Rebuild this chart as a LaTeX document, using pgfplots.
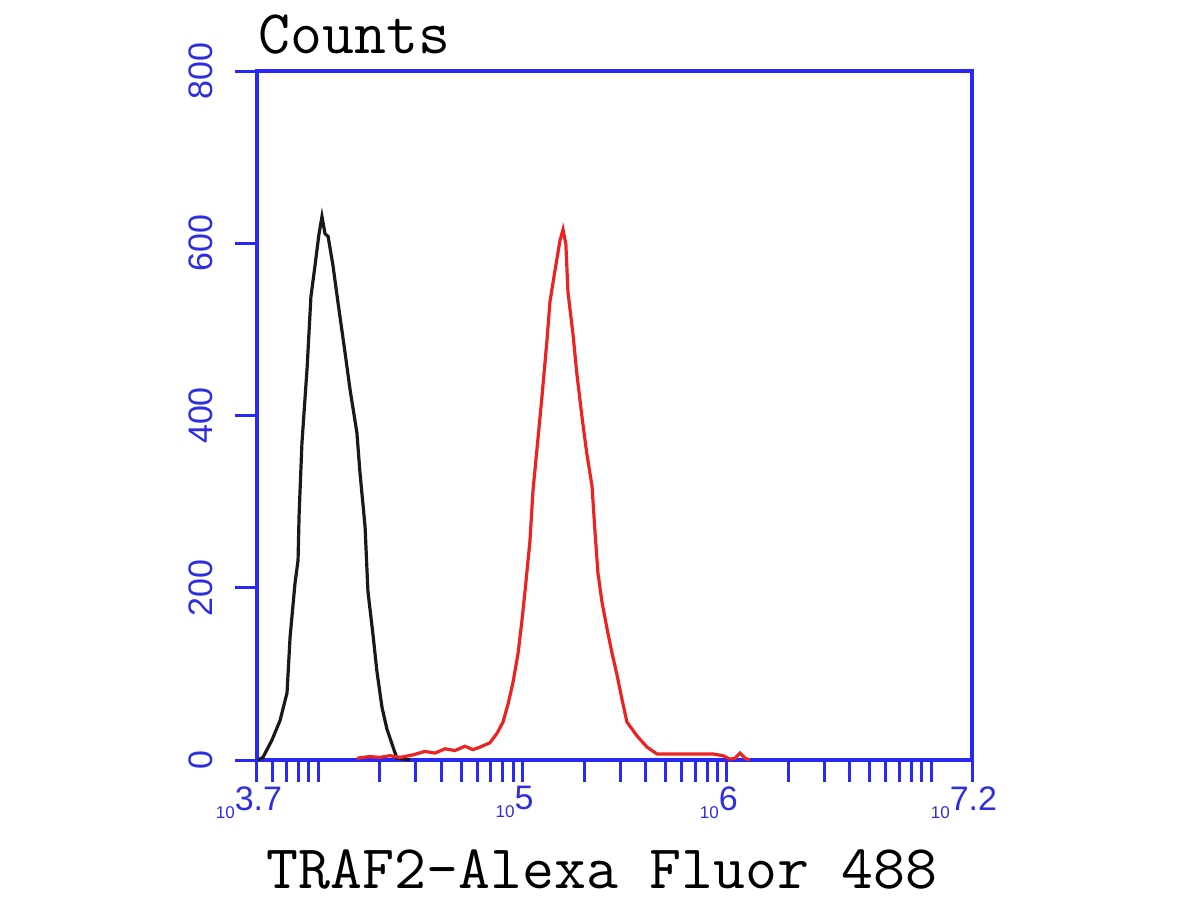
\documentclass[border=0pt]{standalone}
\usepackage{fontspec}
\setsansfont{Liberation Sans}
\usepackage{pgfplots}
\pgfplotsset{compat=1.18}
\definecolor{axblue}{RGB}{40,40,250}
\definecolor{lblblue}{RGB}{45,45,225}
\definecolor{curvered}{RGB}{235,35,35}
\definecolor{curveblack}{RGB}{25,25,25}
\newcommand{\tl}[1]{\raisebox{-0.45ex}{\fontsize{8.5}{8.5}\selectfont 10}#1}
\begin{document}
\begin{tikzpicture}
\path[use as bounding box] (-128.5pt,-70pt) rectangle (471.5pt,380pt);
\begin{axis}[
  at={(0pt,0pt)}, anchor=south west,
  scale only axis, width=357.5pt, height=344.5pt,
  xmin=3.7, xmax=7.2, ymin=0, ymax=800,
  axis line style={axblue, line width=2pt},
  tick style={axblue, line width=1.5pt},
  tick align=outside,
  xtick pos=bottom, ytick pos=left,
  major tick length=11pt, minor tick length=11pt,
  ytick={0,200,400,600,800},
  xtick={3.7,5,6,7.2},
  xticklabels={\tl{3.7},\tl{5},\tl{6},\tl{7.2}},
  minor xtick={3.7782,3.8451,3.9031,3.9542,4,
    4.3010,4.4771,4.6021,4.6990,4.7782,4.8451,4.9031,4.9542,
    5.3010,5.4771,5.6021,5.6990,5.7782,5.8451,5.9031,5.9542,
    6.3010,6.4771,6.6021,6.6990,6.7782,6.8451,6.9031,6.9542,7},
  /pgf/number format/assume math mode=true,
  ticklabel style={font=\sffamily\fontsize{17}{17}\selectfont, text=lblblue},
  yticklabel style={rotate=90, anchor=south, inner sep=0pt, yshift=11pt},
  xticklabel style={anchor=north, inner sep=0pt, yshift=-2pt, xshift=-4pt},
  xlabel={TRAF2-Alexa Fluor 488},
  xlabel style={at={(axis description cs:0.4825,-0.1858)}, anchor=base, inner sep=2pt,
    font=\ttfamily\fontsize{31}{31}\selectfont, text=black},
  title={Counts},
  every axis title/.style={at={(axis description cs:-0.004,1.026)}, anchor=base west, inner sep=2pt,
    font=\ttfamily\fontsize{31}{31}\selectfont, text=black},
]
\addplot[curveblack, line width=1.6pt] coordinates {
(3.705,0) (3.729,3) (3.773,23) (3.813,46) (3.847,78) (3.862,143) (3.886,205)
(3.901,232) (3.906,284) (3.920,368) (3.945,454) (3.964,538) (3.984,574)
(4.003,610) (4.018,631) (4.033,611) (4.048,608) (4.072,574) (4.096,532)
(4.131,473) (4.155,431) (4.189,380) (4.204,334) (4.229,271) (4.243,196)
(4.268,145) (4.287,103) (4.312,61) (4.336,36) (4.366,15) (4.385,2) (4.45,0)
};
\addplot[curvered, line width=1.6pt] coordinates {
(4.189,2) (4.25,4) (4.302,3) (4.35,5) (4.400,3) (4.464,6) (4.522,10)
(4.571,8) (4.620,13) (4.669,11) (4.718,16) (4.757,12) (4.792,15) (4.840,20)
(4.875,31) (4.904,44) (4.929,65) (4.953,90) (4.978,124) (4.997,162)
(5.012,196) (5.036,254) (5.051,313) (5.075,372) (5.095,422) (5.119,486)
(5.134,532) (5.159,569) (5.183,603) (5.198,616) (5.212,599) (5.222,544)
(5.247,494) (5.266,448) (5.291,398) (5.315,355) (5.340,318) (5.354,267)
(5.369,217) (5.389,183) (5.413,153) (5.438,124) (5.462,99) (5.487,70)
(5.511,44) (5.560,28) (5.609,15) (5.658,7) (5.771,7) (5.932,7) (5.981,5)
(6.015,1) (6.040,2) (6.064,8) (6.089,2) (6.113,0)
};
\end{axis}
\end{tikzpicture}
\end{document}
